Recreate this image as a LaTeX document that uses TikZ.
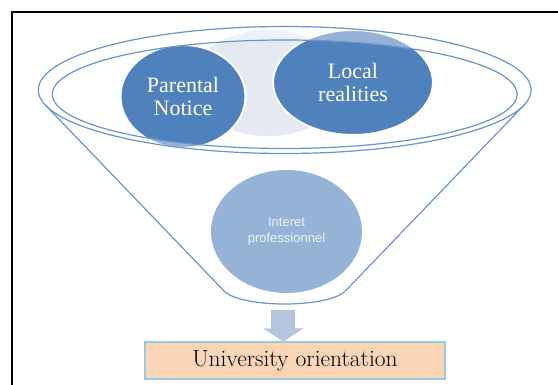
\documentclass[tikz,border=0pt]{standalone}
\usepackage{fontspec}
\newfontfamily\timesfont{Liberation Serif}
\newfontfamily\arialfont{Liberation Sans}
\usetikzlibrary{shapes.geometric}
\usetikzlibrary{arrows.meta}
\usetikzlibrary{positioning}
\definecolor{funnelblue}{HTML}{4F81BD}
\definecolor{lightblue}{HTML}{95B3D7}
\definecolor{paleblue}{HTML}{E4E9F2}
\definecolor{arrowblue}{HTML}{B3C5E1}
\definecolor{peach}{HTML}{FBD5B5}
\definecolor{boxedge}{HTML}{93CDDD}
\tikzset{
    rim/.style={draw=funnelblue!85, line width=1.2pt},
    ball/.style={ellipse, draw=white, line width=2pt, inner sep=0pt,
        text=white, align=center, font=\timesfont\fontsize{22}{23.5}\selectfont},
}

\begin{document}
\begin{tikzpicture}[x=1pt, y=-1pt]
    \useasboundingbox (0,0) rectangle (558,385);
    \draw[line width=2pt] (12,385) -- (12,12) -- (558,12);

    % body of the funnel
    \draw[rim] (45.3,105) -- (225,292)
        .. controls (245,308) and (324.4,308) .. (344.4,292) -- (524.1,105);

    \node[ball, draw=none, fill=paleblue, minimum width=156pt, minimum height=106pt] (h) at (268,83) {};
    \node[ball, fill=funnelblue, minimum width=125pt, minimum height=103pt] (p) at (183,96.5) {Parental\\Notice};
    \node[ball, fill=funnelblue, minimum width=160pt, minimum height=105pt] (l) at (353,82.5) {Local\\realities};

    % rim: two ellipses, the band between them lightened
    \fill[white, fill opacity=0.4, even odd rule]
        (284.7,90) ellipse [x radius=246.4pt, y radius=63.5pt]
        (284.7,94.25) ellipse [x radius=232.4pt, y radius=54.25pt];
    \draw[rim] (284.7,90) ellipse [x radius=246.4pt, y radius=63.5pt];
    \draw[rim] (284.7,94.25) ellipse [x radius=232.4pt, y radius=54.25pt];

    \node[ball, draw=none, fill=lightblue, text=white!85!lightblue,
        font=\arialfont\fontsize{13}{16}\selectfont,
        minimum width=151pt, minimum height=123pt] (i) at (286.5,231.5) {Interet\\professionnel};

    \node[draw=boxedge, line width=1.2pt, fill=peach, minimum width=300pt, minimum height=37pt,
        font=\rmfamily\fontsize{23.5}{25}\selectfont] (u) at (295,360.5) {University orientation};

    \coordinate (f) at (283.3,310);
    \draw[arrowblue, line width=24pt, -{Triangle[length=13pt, width=40pt]}] (f) -- (f |- u.north);
\end{tikzpicture}
\end{document}
